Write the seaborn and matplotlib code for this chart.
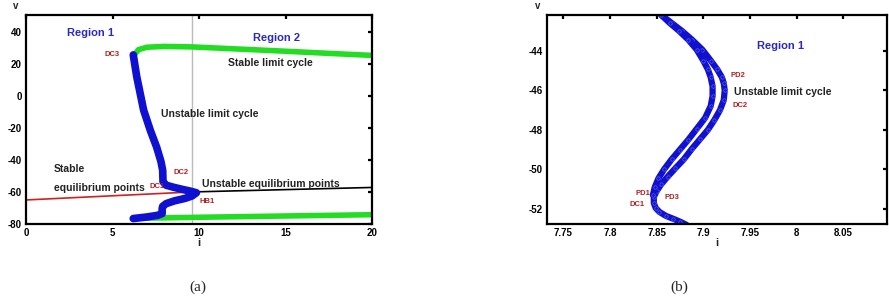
import matplotlib
matplotlib.use("Agg")
import matplotlib.pyplot as plt
import seaborn as sns
import pandas as pd

sns.set_theme(style="white")
plt.rcParams['font.family'] = ['Liberation Sans', 'DejaVu Sans']
plt.rcParams['axes.unicode_minus'] = False

# ---------------- Panel (a) data ----------------
stable_eq_i = [0.0, 9.6]
stable_eq_v = [-65.0, -60.0]
unstable_eq_i = [9.6, 20.0]
unstable_eq_v = [-60.0, -57.2]

ulc_i = [6.2, 6.4, 6.8, 7.2, 7.55, 7.8, 7.9, 7.92, 8.1, 8.5, 9.0, 9.5, 9.85,
         9.6, 9.2, 8.6, 8.1, 7.9, 7.87, 7.87, 7.6, 7.0, 6.2]
ulc_v = [25.5, 12.0, -9.0, -22.0, -32.0, -41.0, -46.5, -53.5, -55.8, -57.0, -58.3, -59.5, -60.5,
         -62.5, -64.0, -65.5, -67.3, -69.0, -70.5, -73.5, -74.6, -75.6, -76.6]

slc_top_i = [6.3, 6.5, 7.0, 8.0, 9.6, 12.0, 15.0, 18.0, 20.0]
slc_top_v = [26.0, 28.8, 30.3, 30.8, 30.5, 29.3, 27.8, 26.2, 25.2]
slc_bot_i = [6.2, 10.0, 15.0, 20.0]
slc_bot_v = [-76.5, -75.8, -75.0, -74.2]

vline_i = 9.6

a_xticks = [0, 5, 10, 15, 20]
a_yticks = [-80, -60, -40, -20, 0, 20, 40]

# ---------------- Panel (b) data ----------------
outer_i = [7.855, 7.866, 7.877, 7.888, 7.899, 7.908, 7.915, 7.920, 7.922, 7.923, 7.922,
           7.918, 7.912, 7.905, 7.897, 7.888, 7.879, 7.870, 7.862, 7.855, 7.850, 7.847,
           7.847, 7.849, 7.853, 7.860, 7.868, 7.875, 7.882]
outer_v = [-42.2, -42.6, -43.0, -43.45, -43.95, -44.5, -44.95, -45.35, -45.65, -46.0, -46.5,
           -47.0, -47.5, -48.0, -48.45, -48.95, -49.5, -49.95, -50.36, -50.75, -51.1, -51.4,
           -51.7, -51.95, -52.15, -52.35, -52.5, -52.64, -52.8]
inner_i = [7.855, 7.864, 7.874, 7.884, 7.893, 7.900, 7.905, 7.908, 7.910, 7.910, 7.908,
           7.902, 7.893, 7.884, 7.875, 7.866, 7.858, 7.852, 7.848, 7.846]
inner_v = [-42.2, -42.6, -43.0, -43.45, -43.95, -44.5, -44.95, -45.35, -45.8, -46.3, -46.8,
           -47.4, -47.95, -48.5, -49.0, -49.5, -50.0, -50.45, -50.9, -51.3]

b_xticks = [7.75, 7.8, 7.85, 7.9, 7.95, 8.0, 8.05]
b_xticklabels = ["7.75", "7.8", "7.85", "7.9", "7.95", "8", "8.05"]
b_yticks = [-52, -50, -48, -46, -44]

W, H = 889, 300
fig = plt.figure(figsize=(W / 100, H / 100), dpi=100)

def px_axes(x0, x1, y0, y1):
    return fig.add_axes([x0 / W, 1 - y1 / H, (x1 - x0) / W, (y1 - y0) / H])

axA = px_axes(26, 372, 15, 224)
axB = px_axes(547, 887, 15, 224)

BLUE = "#1010d0"
GREEN = "#22dd22"
RED_T = "#b02020"
REG = "#2a2ac0"

def line(ax, xs, ys, **kw):
    df = pd.DataFrame({"i": xs, "v": ys})
    sns.lineplot(data=df, x="i", y="v", sort=False, estimator=None, ax=ax, **kw)

# --- panel a ---
axA.axvline(vline_i, color="#bbbbbb", lw=1.0, zorder=1)
line(axA, stable_eq_i, stable_eq_v, color="#d02020", lw=1.2)
line(axA, unstable_eq_i, unstable_eq_v, color="black", lw=1.2)
line(axA, slc_top_i, slc_top_v, color=GREEN, lw=4.0, solid_capstyle="round")
line(axA, slc_bot_i, slc_bot_v, color=GREEN, lw=4.0, solid_capstyle="round")
line(axA, ulc_i, ulc_v, color=BLUE, lw=5.5, solid_capstyle="round", solid_joinstyle="round")

axA.set_xlim(0, 20)
axA.set_ylim(-80, 50.4)
axA.set_xticks(a_xticks)
axA.set_yticks(a_yticks)

tk = dict(fontsize=7.5, fontweight="bold")
lab = dict(color=RED_T, ha="center", va="center", fontsize=5.5, fontweight="bold")
axA.text(3.7, 39.4, "Region 1", color=REG, ha="center", va="center", fontsize=8, fontweight="bold")
axA.text(14.5, 36.3, "Region 2", color=REG, ha="center", va="center", fontsize=8, fontweight="bold")
axA.text(5.0, 25.9, "DC3", **lab)
axA.text(14.1, 20.6, "Stable limit cycle", color="#222222", ha="center", va="center", **tk)
axA.text(10.6, -11.6, "Unstable limit cycle", color="#222222", ha="center", va="center", **tk)
axA.text(1.6, -45.4, "Stable", color="#222222", ha="left", va="center", **tk)
axA.text(1.6, -57.5, "equilibrium points", color="#222222", ha="left", va="center", **tk)
axA.text(7.6, -56.9, "DC1", **lab)
axA.text(8.94, -48.1, "DC2", **lab)
axA.text(10.2, -54.8, "Unstable equilibrium points", color="#222222", ha="left", va="center", **tk)
axA.text(10.45, -66.2, "HB1", **lab)

# --- panel b ---
for xs, ys in [(outer_i, outer_v), (inner_i, inner_v)]:
    line(axB, xs, ys, color=BLUE, lw=4.5, solid_capstyle="round", solid_joinstyle="round",
         marker="o", markersize=2.5, markerfacecolor="none", markeredgecolor="#6060e0",
         markeredgewidth=0.5)

axB.set_xlim(7.7325, 8.097)
axB.set_ylim(-52.76, -42.2)
axB.set_xticks(b_xticks)
axB.set_xticklabels(b_xticklabels)
axB.set_yticks(b_yticks)

axB.text(7.983, -43.76, "Region 1", color=REG, ha="center", va="center", fontsize=8, fontweight="bold")
axB.text(7.937, -45.28, "PD2", **lab)
axB.text(7.933, -46.1, "Unstable limit cycle", color="#222222", ha="left", va="center", **tk)
axB.text(7.939, -46.79, "DC2", **lab)
axB.text(7.835, -51.2, "PD1", **lab)
axB.text(7.866, -51.4, "PD3", **lab)
axB.text(7.8295, -51.79, "DC1", **lab)

for ax in (axA, axB):
    for s in ax.spines.values():
        s.set_visible(True)
        s.set_color("black")
        s.set_linewidth(1.6)
    ax.tick_params(axis="both", which="both", direction="in", length=3, width=1.6,
                   top=True, right=True, labelsize=7, pad=3, colors="black")
    for t in ax.get_xticklabels() + ax.get_yticklabels():
        t.set_fontweight("bold")
    ax.set_xlabel("")
    ax.set_ylabel("")
    ax.grid(False)

fig.text(199 / W, 1 - 243 / H, "i", ha="center", va="center", fontsize=8, fontweight="bold")
fig.text(717 / W, 1 - 243 / H, "i", ha="center", va="center", fontsize=8, fontweight="bold")
fig.text(16 / W, 1 - 6 / H, "v", ha="center", va="center", fontsize=7, fontweight="bold")
fig.text(538 / W, 1 - 6 / H, "v", ha="center", va="center", fontsize=7, fontweight="bold")

fig.text(198 / W, 1 - 287 / H, "(a)", ha="center", va="center", fontsize=11,
         family=["Liberation Serif", "DejaVu Serif"])
fig.text(679 / W, 1 - 287 / H, "(b)", ha="center", va="center", fontsize=11,
         family=["Liberation Serif", "DejaVu Serif"])

fig.savefig("out.png", dpi=100)
